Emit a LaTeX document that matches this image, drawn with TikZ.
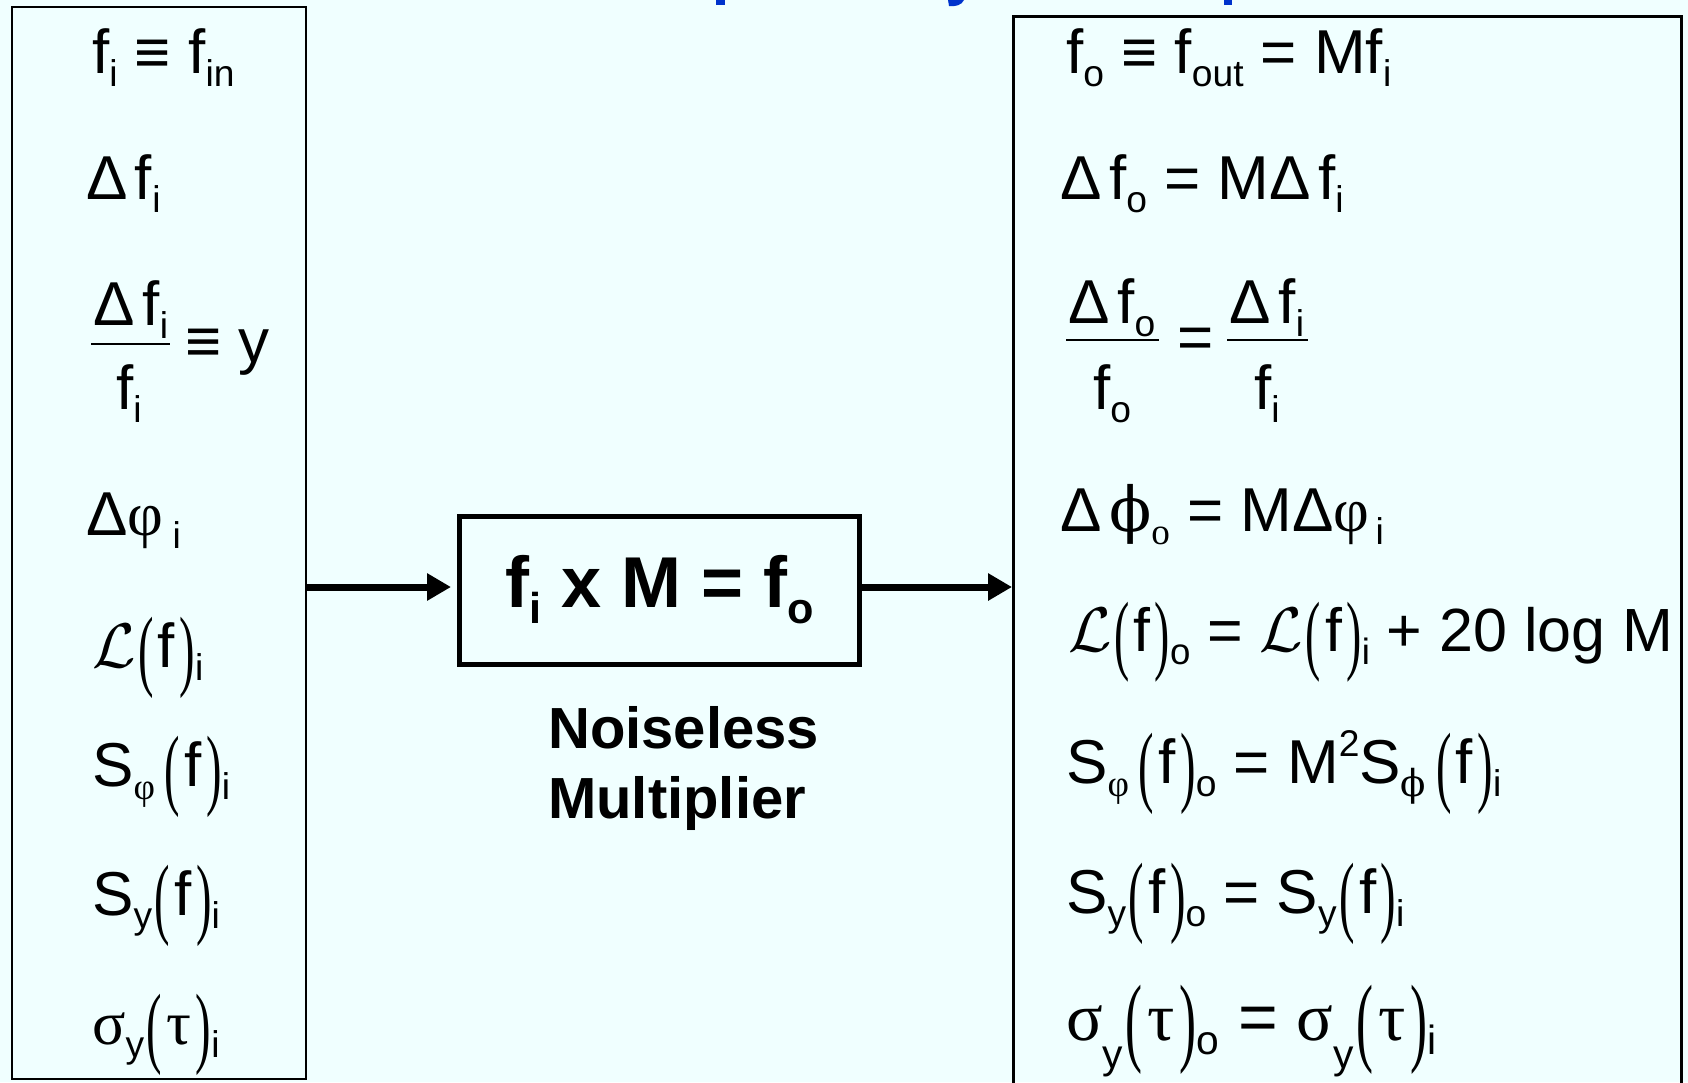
\documentclass[tikz,border=0pt]{standalone}
\usepackage{fontspec}
\usepackage{graphicx}
\setmainfont{Liberation Sans}
\newfontfamily\srf{Liberation Serif}
\newfontfamily\dvs{DejaVu Serif}
\usetikzlibrary{arrows.meta}
\definecolor{bgc}{RGB}{240,255,255}
\definecolor{titleblue}{RGB}{0,51,204}
\newcommand\dn[1]{\raisebox{-0.22em}{\scalebox{0.6}{#1}}}
\newcommand\dnn[1]{\raisebox{-0.42em}{\scalebox{0.6}{#1}}}
\newcommand\up[1]{\raisebox{0.42em}{\scalebox{0.6}{#1}}}
\newcommand\lpar{\hspace{0.04em}\raisebox{-0.2em}{\scalebox{0.75}[1.45]{\srf(}}\hspace{0.07em}}
\newcommand\rpar{\hspace{0.07em}\raisebox{-0.2em}{\scalebox{0.75}[1.45]{\srf)}}}
\newcommand\scrL{\scalebox{6.3}{\fontsize{10}{12}\selectfont$\mathcal{L}$}}
\newcommand\gap{\hspace{0.12em}}
\newcommand\sgap{\hspace{0.12em}}
\begin{document}
\begin{tikzpicture}[x=1pt,y=-1pt,
  eq/.style={anchor=base west, inner sep=0pt, font=\fontsize{62}{70}\selectfont},
  eqc/.style={anchor=base, inner sep=0pt, font=\fontsize{62}{70}\selectfont},
  frbar/.style={line width=2.5pt},
  panel/.style={draw=black, line width=2pt, inner sep=0pt, anchor=north west},
  multbox/.style={draw=black, line width=5pt, inner sep=0pt, minimum width=400pt, minimum height=148pt, font=\fontsize{72}{80}\selectfont\bfseries},
  lbl/.style={anchor=base west, inner sep=0pt, font=\fontsize{58}{66}\selectfont\bfseries},
  arr/.style={line width=7pt, -{Triangle[length=24pt,width=26pt]}}]
\useasboundingbox (0,0) rectangle (1688,1082);
\fill[bgc] (0,0) rectangle (1688,1082);
% title fragments (cut off at the top edge)
\fill[titleblue] (716,0) rectangle (725,5);
\fill[titleblue] (948,0) -- (964,0) .. controls (962,5) and (955,7) .. (949,6) -- cycle;
\fill[titleblue] (1224,0) rectangle (1232,5);
% panels
\node[panel, minimum width=294pt, minimum height=1072pt] (lbox) at (11,6) {};
\node[panel, line width=2.5pt, minimum width=668pt, minimum height=1100pt] (rbox) at (1012,15) {};
% multiplier
\node[multbox] (mult) at (659.5,590) {f\dn{i} x M = f\dn{o}};
\node[lbl] (nl1) at (548,748) {Noiseless};
\node[lbl] (nl2) at (548,818) {Multiplier};
\coordinate (ain) at ([yshift=3pt]mult.west);
\coordinate (aout) at ([yshift=3pt]mult.east);
\draw[arr, shorten >=6pt] (lbox.east |- ain) -- (ain);
\draw[arr] (aout) -- (rbox.west |- aout);
% left column
\node[eq] (l1) at (92,73) {f\dn{i} ≡ f\dn{in}};
\node[eq] (l2) at (86,199) {Δ\gap f\dn{i}};
\node[eqc] (l3n) at (131,325) {Δ\gap f\dn{i}};
\draw[frbar] (91,344) -- (170,344);
\node[eqc] (l3d) at (129,409) {f\dn{i}};
\node[eq] (l3r) at (185,362) {≡ y};
\node[eq] (l4) at (86,535) {Δ{\srf φ}\hspace{0.15em}\dn{i}};
\node[eq] (l5) at (92,667) {\scrL\lpar f\rpar\dn{i}};
\node[eq] (l6) at (92,786) {S\dn{\srf φ}\sgap\lpar f\rpar\dn{i}};
\node[eq] (l7) at (92,915) {S\dn{y}\lpar f\rpar\dn{i}};
\node[eq] (l8) at (92,1044) {{\srf σ}\dn{y}\lpar{\srf τ}\rpar\dn{i}};
% right column
\node[eq] (r1) at (1066,73) {f\dn{o} ≡ f\dn{out} = Mf\dn{i}};
\node[eq] (r2) at (1060,199) {Δ\gap f\dn{o} = MΔ\gap f\dn{i}};
\node[eqc] (r3a) at (1112,323) {Δ\gap f\dn{o}};
\draw[frbar] (1066,340) -- (1159,340);
\node[eqc] (r3b) at (1112,409) {f\dn{o}};
\node[eqc] (r3e) at (1196,358) {=};
\node[eqc] (r3c) at (1267,323) {Δ\gap f\dn{i}};
\draw[frbar] (1227,340) -- (1308,340);
\node[eqc] (r3d) at (1267,409) {f\dn{i}};
\node[eq] (r4) at (1060,531) {Δ\gap{\dvs ϕ}\dn{\srf o} = MΔ{\srf φ}\hspace{0.1em}\dn{i}};
\node[eq, font=\fontsize{61}{70}\selectfont] (r5) at (1068,651) {\scrL\lpar f\rpar\dn{o} = \scrL\lpar f\rpar\dn{i} + 20 log M};
\node[eq] (r6) at (1066,783) {S\dn{\srf φ}\sgap\lpar f\rpar\dn{o} = M\up{2}S\dn{\dvs ϕ}\sgap\lpar f\rpar\dn{i}};
\node[eq] (r7) at (1066,913) {S\dn{y}\lpar f\rpar\dn{o} = S\dn{y}\lpar f\rpar\dn{i}};
\node[eq, font=\fontsize{68}{78}\selectfont] (r8) at (1066,1040) {{\srf σ}\dnn{y}\lpar{\srf τ}\rpar\dn{o} = {\srf σ}\dnn{y}\lpar{\srf τ}\rpar\dn{i}};
\end{tikzpicture}
\end{document}
